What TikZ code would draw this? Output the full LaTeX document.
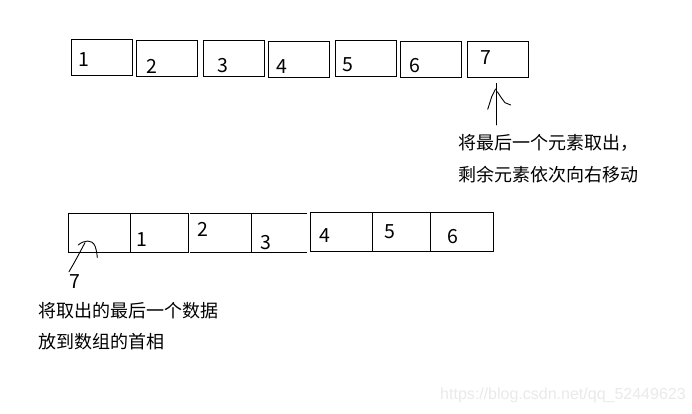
\documentclass[tikz,border=0pt]{standalone}
\usepackage{fontspec}
\setmainfont{Noto Sans CJK SC}
\newfontfamily\wmfont{Liberation Sans}
\definecolor{wm}{RGB}{234,234,234}
\begin{document}
\begin{tikzpicture}[x=1pt,y=-1pt,
  cell/.style={draw,line width=0.9pt,minimum width=61pt,minimum height=36pt,inner sep=0pt,outer sep=0pt},
  bcell/.style={draw,line width=0.9pt,minimum height=39pt,inner sep=0pt,outer sep=0pt},
  num/.style={inner sep=0pt,font=\fontsize{19.5}{21}\selectfont},
  captext/.style={inner sep=0pt,anchor=west,font=\fontsize{18}{20}\selectfont},
  hand/.style={line width=0.9pt,line cap=round,line join=round},
  rulel/.style={line width=0.9pt}]
\useasboundingbox[fill=white] (0,0) rectangle (692,413);
% top row
\node[cell] (t1) at (102,57.2) {};
\node[cell] (t2) at (166.8,58.3) {};
\node[cell] (t3) at (233.8,58.2) {};
\node[cell] (t4) at (298.8,59.3) {};
\node[cell] (t5) at (365.7,58.3) {};
\node[cell] (t6) at (430.8,59.3) {};
\node[cell] (t7) at (497.8,59.3) {};
\node[num] (n1) at (84,60) {1};
\node[num] (n2) at (151.7,66.3) {2};
\node[num] (n3) at (223.3,65.2) {3};
\node[num] (n4) at (281.7,66.3) {4};
\node[num] (n5) at (348,64.8) {5};
\node[num] (n6) at (415.3,66) {6};
\node[num] (n7) at (486.2,58) {7};
% arrow to 7
\coordinate (tailA) at (496.7,125);
\coordinate (headA) at (496.7,83.3);
\draw[hand] (tailA) -- (headA);
\draw[hand] (495.5,89) -- (491.7,96.7) -- (487.7,109.3);
\draw[hand] (497.3,91.7) -- (501.7,98.3) -- (505,102.7) -- (510.7,105);
\node[captext] (c1) at (458.3,143.3) {将最后一个元素取出，};
\node[captext] (c2) at (458.3,175) {剩余元素依次向右移动};
% bottom row
\node[bcell,minimum width=62.2pt] (b0) at (99.4,232.8) {};
\node[bcell,minimum width=57.8pt] (b1) at (159.4,232.8) {};
\draw[rulel] (190,213.3) -- (307,213.3);
\draw[rulel] (190,252) -- (307,252);
\draw[rulel] (251.7,213.3) -- (251.7,252);
\node[bcell,minimum width=62.3pt,minimum height=38.7pt] (b4) at (341.2,231.7) {};
\node[bcell,minimum width=58.4pt,minimum height=38.7pt] (b5) at (401.5,231.7) {};
\node[bcell,minimum width=63pt,minimum height=38.7pt] (b6) at (462.2,231.7) {};
\node[num] (m1) at (141.7,239.7) {1};
\node[num] (m2) at (202.8,229.5) {2};
\node[num] (m3) at (266.2,242.8) {3};
\node[num] (m4) at (324.7,236) {4};
\node[num] (m5) at (389.5,231.7) {5};
\node[num] (m6) at (452.8,236.7) {6};
\node[num] (m7) at (75,281.3) {7};
% hook
\draw[hand] (69,271.7) .. controls (76,260) and (81,250) .. (85,242.7);
\draw[hand] (78.3,245) .. controls (84,240) and (92,239) .. (95,246) .. controls (96.5,250) and (97,254) .. (97.3,257.7);
\node[captext] (c3) at (38.3,310.7) {将取出的最后一个数据};
\node[captext] (c4) at (38.3,341.7) {放到数组的首相};
\node[inner sep=0pt,anchor=west,text=wm,font=\wmfont\fontsize{16}{18}\selectfont] (wmk) at (440,395) {https://blog.csdn.net/qq\_52449623};
\end{tikzpicture}
\end{document}
